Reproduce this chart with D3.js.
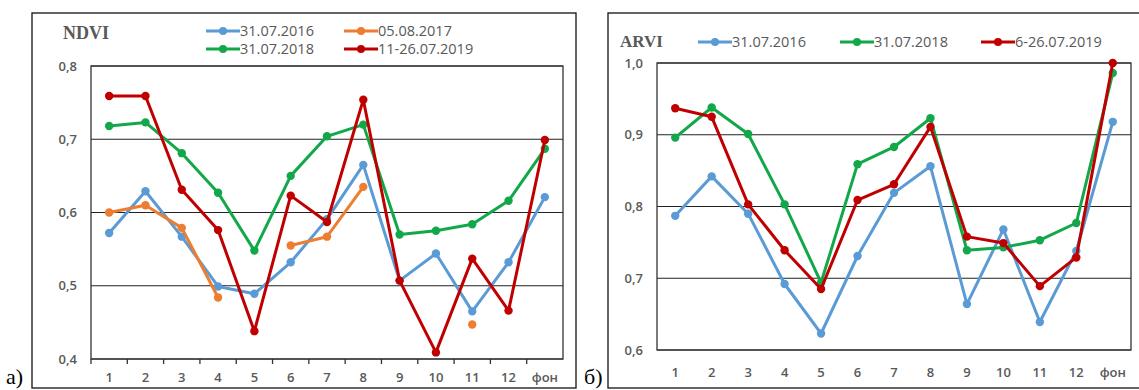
<!DOCTYPE html>
<html>
<head>
<meta charset="utf-8">
<script src="https://cdn.jsdelivr.net/npm/d3@7"></script>
<style>
  body { margin: 0; background: white; }
  text { font-family: "Open Sans", "Liberation Sans", sans-serif; }
</style>
</head>
<body>
<div id="viz-container"></div>
<script>
// categories on the x axis (both panels)
let categories = ["1", "2", "3", "4", "5", "6", "7", "8", "9", "10", "11", "12", "фон"];

// NDVI panel
let ndviTicks = [0.4, 0.5, 0.6, 0.7, 0.8];
let ndvi2016 = [0.572, 0.629, 0.567, 0.499, 0.489, 0.532, 0.591, 0.665, 0.507, 0.544, 0.465, 0.532, 0.621];
let ndvi2017 = [0.600, 0.610, 0.579, 0.484, null, 0.555, 0.567, 0.635, null, null, 0.447, null, null];
let ndvi2018 = [0.718, 0.723, 0.681, 0.627, 0.548, 0.650, 0.704, 0.720, 0.570, 0.575, 0.584, 0.616, 0.687];
let ndvi2019 = [0.759, 0.759, 0.631, 0.576, 0.438, 0.623, 0.587, 0.754, 0.507, 0.409, 0.537, 0.466, 0.699];

// ARVI panel
let arviTicks = [0.6, 0.7, 0.8, 0.9, 1.0];
let arvi2016 = [0.787, 0.842, 0.790, 0.692, 0.623, 0.731, 0.819, 0.856, 0.664, 0.768, 0.639, 0.738, 0.918];
let arvi2018 = [0.896, 0.938, 0.901, 0.803, 0.694, 0.859, 0.883, 0.923, 0.739, 0.743, 0.753, 0.777, 0.986];
let arvi2019 = [0.937, 0.925, 0.803, 0.739, 0.685, 0.809, 0.831, 0.911, 0.758, 0.749, 0.689, 0.729, 1.000];

let blue = "#5b9bd5";
let orange = "#ed7d31";
let green = "#12a84a";
let red = "#c00000";
let gray = "#595959";

let viz = d3.select("#viz-container")
                .append("svg")
                    .attr("width", 1139)
                    .attr("height", 390)
                    .style("background-color", "white")
;

function drawPanel(cfg){
    let g = viz.append("g");

    // outer frame
    g.append("rect")
        .attr("x", cfg.box[0])
        .attr("y", cfg.box[1])
        .attr("width", cfg.box[2] - cfg.box[0])
        .attr("height", cfg.box[3] - cfg.box[1])
        .attr("fill", "none")
        .attr("stroke", "#111")
        .attr("stroke-width", 1.3)
    ;

    let x = d3.scaleBand()
                .domain(categories)
                .range([cfg.plot[0], cfg.plot[2]])
                .paddingInner(0)
                .paddingOuter(0)
    ;
    let y = d3.scaleLinear()
                .domain([cfg.ticks[0], cfg.ticks[cfg.ticks.length - 1]])
                .range([cfg.plot[3], cfg.plot[1]])
    ;

    // gridlines
    g.selectAll(".grid").data(cfg.ticks).enter().append("line")
        .attr("x1", cfg.plot[0])
        .attr("x2", cfg.plot[2])
        .attr("y1", d => y(d))
        .attr("y2", d => y(d))
        .attr("stroke", "#222")
        .attr("stroke-width", 1.2)
    ;
    // plot area frame
    g.append("rect")
        .attr("x", cfg.plot[0])
        .attr("y", y(cfg.ticks[cfg.ticks.length - 1]))
        .attr("width", cfg.plot[2] - cfg.plot[0])
        .attr("height", y(cfg.ticks[0]) - y(cfg.ticks[cfg.ticks.length - 1]))
        .attr("fill", "none")
        .attr("stroke", "#333")
        .attr("stroke-width", 1.3)
    ;

    // y axis labels
    let yAxis = d3.axisLeft(y)
                    .tickValues(cfg.ticks)
                    .tickSize(0)
                    .tickPadding(14)
                    .tickFormat(d => d3.format(".1f")(d).replace(".", ","))
    ;
    let ya = g.append("g")
                .attr("transform", "translate(" + cfg.plot[0] + ",0)")
                .call(yAxis)
    ;
    ya.select(".domain").remove();
    ya.selectAll("text")
        .style("font-size", "13px")
        .style("font-weight", 600)
        .attr("fill", gray)
    ;

    // x axis labels
    let xAxis = d3.axisBottom(x)
                    .tickSize(0)
                    .tickPadding(cfg.xPad)
    ;
    let xa = g.append("g")
                .attr("transform", "translate(0," + y(cfg.ticks[0]) + ")")
                .call(xAxis)
    ;
    xa.select(".domain").remove();
    xa.selectAll("text")
        .style("font-size", "13px")
        .style("font-weight", 600)
        .attr("fill", gray)
    ;

    // tick marks at band boundaries
    if (cfg.xTicks) {
        g.selectAll(".xtick").data(categories).enter().append("line")
            .attr("x1", d => x(d))
            .attr("x2", d => x(d))
            .attr("y1", y(cfg.ticks[0]))
            .attr("y2", y(cfg.ticks[0]) + 5)
            .attr("stroke", "#333")
            .attr("stroke-width", 1.3)
        ;
    }

    let line = d3.line()
                    .defined(d => d != null)
                    .x((d, i) => x(categories[i]) + x.bandwidth() / 2)
                    .y(d => y(d))
    ;

    cfg.series.forEach(function(s){
        g.append("path")
            .datum(s.values)
            .attr("d", line)
            .attr("fill", "none")
            .attr("stroke", s.color)
            .attr("stroke-width", 3)
            .attr("stroke-linejoin", "round")
        ;
        // markers, skipping the gaps
        let pts = s.values.map((v, i) => ({cat: categories[i], v: v})).filter(p => p.v != null);
        g.selectAll(null).data(pts).enter().append("circle")
            .attr("cx", p => x(p.cat) + x.bandwidth() / 2)
            .attr("cy", p => y(p.v))
            .attr("r", 4.2)
            .attr("fill", s.color)
        ;
    });

    // title
    g.append("text")
        .text(cfg.title)
        .attr("x", cfg.titlePos[0])
        .attr("y", cfg.titlePos[1])
        .style("font-family", "'Liberation Serif', 'Times New Roman', serif")
        .style("font-weight", "bold")
        .style("font-size", cfg.titleSize)
        .attr("fill", gray)
    ;

    // legend
    cfg.series.forEach(function(s){
        let lx = s.legend[0];
        let ly = s.legend[1];
        g.append("line")
            .attr("x1", lx)
            .attr("x2", lx + 34)
            .attr("y1", ly)
            .attr("y2", ly)
            .attr("stroke", s.color)
            .attr("stroke-width", 3.2)
        ;
        g.append("circle")
            .attr("cx", lx + 17)
            .attr("cy", ly)
            .attr("r", 4)
            .attr("fill", s.color)
        ;
        g.append("text")
            .text(s.name)
            .attr("x", lx + 34)
            .attr("y", ly + 5)
            .style("font-size", "14.5px")
            .attr("fill", gray)
        ;
    });

    // panel letter
    viz.append("text")
        .text(cfg.letter)
        .attr("x", cfg.letterPos[0])
        .attr("y", cfg.letterPos[1])
        .style("font-family", "'Liberation Serif', 'Times New Roman', serif")
        .style("font-size", "22px")
        .attr("fill", "#000")
    ;
}

drawPanel({
    box: [32, 13, 576, 388],
    plot: [91, 66, 563, 359],
    ticks: ndviTicks,
    xPad: 14,
    xTicks: true,
    title: "NDVI",
    titleSize: "18px",
    titlePos: [63, 39],
    letter: "а)",
    letterPos: [6, 384],
    series: [
        {name: "31.07.2016", values: ndvi2016, color: blue, legend: [206, 31]},
        {name: "05.08.2017", values: ndvi2017, color: orange, legend: [344, 31]},
        {name: "31.07.2018", values: ndvi2018, color: green, legend: [206, 49]},
        {name: "11-26.07.2019", values: ndvi2019, color: red, legend: [344, 49]}
    ]
});

drawPanel({
    box: [608, 13, 1150, 388],
    plot: [657, 63, 1131, 350],
    ticks: arviTicks,
    xPad: 18,
    xTicks: false,
    title: "ARVI",
    titleSize: "17px",
    titlePos: [620, 47],
    letter: "б)",
    letterPos: [584, 384],
    series: [
        {name: "31.07.2016", values: arvi2016, color: blue, legend: [698, 42]},
        {name: "31.07.2018", values: arvi2018, color: green, legend: [840, 42]},
        {name: "6-26.07.2019", values: arvi2019, color: red, legend: [981, 42]}
    ]
});
</script>
</body>
</html>
